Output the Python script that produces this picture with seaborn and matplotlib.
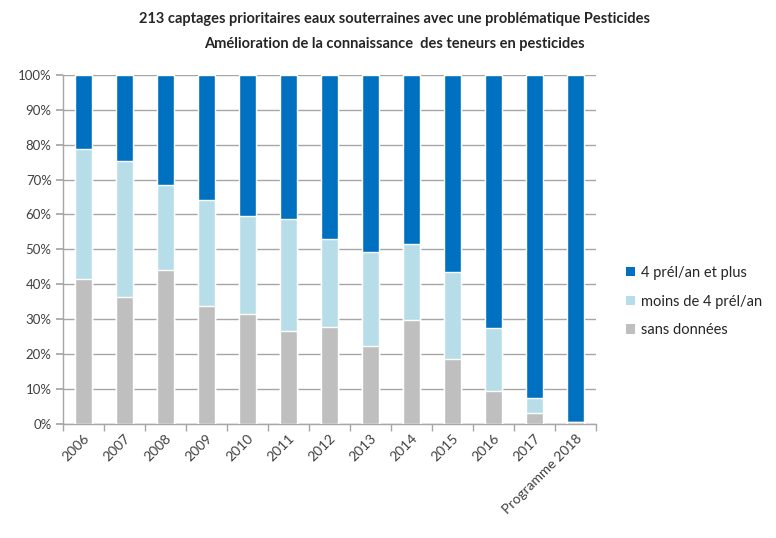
import matplotlib
matplotlib.use("Agg")
import matplotlib.pyplot as plt
import numpy as np
import pandas as pd
import seaborn as sns
from matplotlib.patches import Patch
from matplotlib.ticker import FixedLocator, PercentFormatter

years = ["2006", "2007", "2008", "2009", "2010", "2011", "2012", "2013",
         "2014", "2015", "2016", "2017", "Programme 2018"]
sans_donnees = [41.5, 36.4, 44.1, 33.8, 31.5, 26.7, 27.9, 22.4, 29.8, 18.7, 9.5, 3.1, 0.5]
moins_4 = [37.2, 39.0, 24.3, 30.2, 28.1, 32.1, 25.0, 26.8, 21.7, 24.8, 18.1, 4.3, 0.0]
plus_4 = [21.3, 24.6, 31.6, 36.0, 40.4, 41.2, 47.1, 50.8, 48.5, 56.5, 72.4, 92.6, 99.5]

labels = ["4 prél/an et plus", "moins de 4 prél/an", "sans données"]
colors = ["#0070C0", "#B7DEE8", "#BFBFBF"]

df = pd.DataFrame({"annee": years, "sans": sans_donnees,
                   "moins": moins_4, "plus": plus_4})
df["cum_sans"] = df["sans"]
df["cum_moins"] = df["sans"] + df["moins"]
df["cum_plus"] = df["cum_moins"] + df["plus"]

sns.set_theme(style="white")
plt.rcParams["font.family"] = ["Lato", "DejaVu Sans"]

fig = plt.figure(figsize=(7.76, 5.38), dpi=100)
ax = fig.add_axes([0.081, 0.212, 0.687, 0.649])

# layers drawn back to front, each to its cumulative height
for col, color in zip(["cum_plus", "cum_moins", "cum_sans"], colors):
    sns.barplot(data=df, x="annee", y=col, color=color, width=0.43,
                saturation=1, ax=ax, zorder=3)

ax.set_ylim(0, 100)
ax.set_xlim(-0.5, len(years) - 0.5)
ax.yaxis.set_major_locator(FixedLocator(np.arange(0, 101, 10)))
ax.yaxis.set_major_formatter(PercentFormatter(decimals=0))
ax.grid(axis="y", color="#A6A6A6", linewidth=1, zorder=0)
ax.set_axisbelow(True)
ax.set_xlabel("")
ax.set_ylabel("")

for side in ["top", "right"]:
    ax.spines[side].set_visible(False)
for side in ["left", "bottom"]:
    ax.spines[side].set_color("#A6A6A6")
    ax.spines[side].set_linewidth(1)

ax.tick_params(axis="y", which="major", length=5, color="#A6A6A6",
               labelsize=9.5, labelcolor="#404040", left=True, pad=3)
ax.set_xticks(range(len(years)))
ax.set_xticklabels(years, rotation=45, ha="right", rotation_mode="anchor",
                   fontsize=10, color="#404040")
ax.tick_params(axis="x", which="major", length=0, pad=6)
ax.xaxis.set_minor_locator(FixedLocator(np.arange(-0.5, len(years), 1.0)))
ax.tick_params(axis="x", which="minor", length=5, color="#A6A6A6", bottom=True)

fig.text(0.508, 0.964, "213 captages prioritaires eaux souterraines avec une problématique Pesticides",
         ha="center", va="center", fontsize=10.5, fontweight="bold", color="#262626")
fig.text(0.508, 0.918, "Amélioration de la connaissance  des teneurs en pesticides",
         ha="center", va="center", fontsize=10.5, fontweight="bold", color="#262626")

handles = [Patch(facecolor=c, edgecolor="none") for c in colors]
fig.legend(handles, labels, loc="upper left", bbox_to_anchor=(0.79, 0.53),
           frameon=False, fontsize=10.5, handlelength=0.6, handleheight=0.6,
           handletextpad=0.4, labelspacing=1.0, labelcolor="#262626")

fig.savefig("out.png", dpi=100)
